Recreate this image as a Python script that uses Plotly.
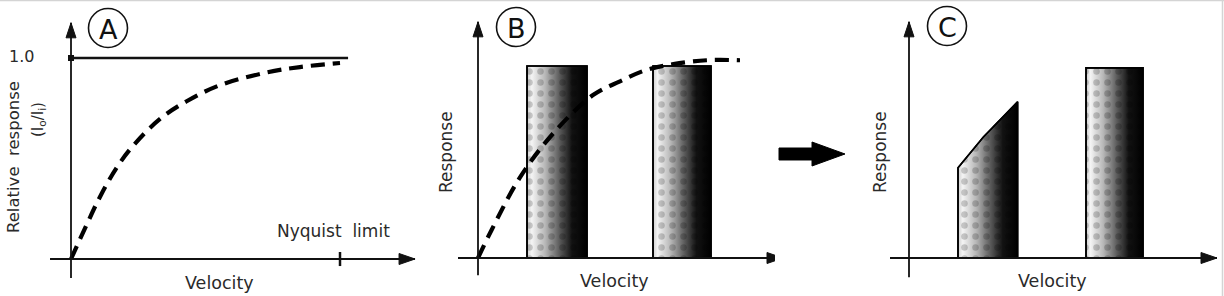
import plotly.graph_objects as go

W, H = 1224, 296

# ---------------- data ----------------
# Panel A: relative response vs velocity (velocity as fraction of Nyquist limit)
a_vel = [0.0, 0.058, 0.108, 0.17, 0.232, 0.331, 0.43, 0.554, 0.727, 0.851, 1.0]
a_resp = [0.0, 0.17, 0.31, 0.455, 0.565, 0.697, 0.785, 0.865, 0.928, 0.955, 0.975]
a_ref_level = 1.0
nyquist = 1.0

# Panel B: response curve and two velocity bands (bars)
b_vel = [0.0, 0.68, 2.1, 3.77, 5.77, 7.1, 8.43, 9.77, 11.43, 13.1]
b_resp = [0.0, 0.146, 0.42, 0.65, 0.85, 0.92, 0.98, 1.01, 1.03, 1.03]
b_bar_left = [2.45, 8.75]
b_bar_right = [5.45, 11.65]
b_bar_height = [1.0, 1.0]

# Panel C: filtered bands
c1_top_vel = [2.45, 3.72, 4.72, 5.43]
c1_top_resp = [0.47, 0.63, 0.74, 0.814]
c2_left, c2_right, c2_height = 8.85, 11.7, 0.99

# ---------------- helpers (layout positions in pixels) ----------------
def fx(px):
    return px / W

def fy(py):
    return 1 - py / H

panels = {
    "A": dict(ox=71, oy=259, sx=269, sy=201, L=0, R=425),
    "B": dict(ox=478, oy=258, sx=20, sy=192, L=425, R=775),
    "C": dict(ox=909, oy=258, sx=20, sy=192, L=860, R=1224),
}
axis_ext = {
    "A": dict(x0=-0.078, x1=1.279, y0=-0.095, y1=1.175),
    "B": dict(x0=-1.0, x1=15.25, y0=-0.09, y1=1.23),
    "C": dict(x0=-0.95, x1=15.4, y0=-0.10, y1=1.23),
}
axref = {"A": ("x", "y"), "B": ("x2", "y2"), "C": ("x3", "y3")}

fig = go.Figure()
layout_axes = {}
for i, (k, p) in enumerate(panels.items()):
    sfx = "" if i == 0 else str(i + 1)
    layout_axes["xaxis" + sfx] = dict(
        domain=[fx(p["L"]), fx(p["R"])],
        range=[(p["L"] - p["ox"]) / p["sx"], (p["R"] - p["ox"]) / p["sx"]],
        visible=False, fixedrange=True, anchor="y" + sfx,
    )
    layout_axes["yaxis" + sfx] = dict(
        domain=[0, 1],
        range=[(p["oy"] - H) / p["sy"], p["oy"] / p["sy"]],
        visible=False, fixedrange=True, anchor="x" + sfx,
    )

shapes = []
annotations = []
LINE = "#111111"
TXT = "#2a2a2a"
FONT = "DejaVu Sans"
DASH = dict(color="black", width=4.2, dash="14px,8px")

for k in panels:
    xr, yr = axref[k]
    e = axis_ext[k]
    shapes.append(dict(type="line", xref=xr, yref=yr, x0=e["x0"], x1=e["x1"] - 0.0001, y0=0, y1=0,
                       line=dict(color=LINE, width=1.8)))
    shapes.append(dict(type="line", xref=xr, yref=yr, x0=0, x1=0, y0=e["y0"], y1=e["y1"] - 0.0001,
                       line=dict(color=LINE, width=1.8)))
    shapes.append(dict(type="path", xref=xr, yref=yr, xsizemode="pixel", ysizemode="pixel",
                       xanchor=e["x1"], yanchor=0, path="M -16,-5.5 L -16,5.5 L 0,0 Z",
                       fillcolor=LINE, line=dict(color=LINE, width=1)))
    shapes.append(dict(type="path", xref=xr, yref=yr, xsizemode="pixel", ysizemode="pixel",
                       xanchor=0, yanchor=e["y1"], path="M -5,-15 L 5,-15 L 0,0 Z",
                       fillcolor=LINE, line=dict(color=LINE, width=1)))

# Panel A elements
fig.add_trace(go.Scatter(x=[0, 1.03], y=[a_ref_level, a_ref_level], mode="lines",
                         line=dict(color=LINE, width=2.4), xaxis="x", yaxis="y",
                         hoverinfo="skip", showlegend=False))
fig.add_trace(go.Scatter(x=[0], y=[a_ref_level], mode="markers",
                         marker=dict(color=LINE, size=6, symbol="square"),
                         xaxis="x", yaxis="y", hoverinfo="skip", showlegend=False))
fig.add_trace(go.Scatter(x=a_vel, y=a_resp, mode="lines", line_shape="spline",
                         line=DASH, xaxis="x", yaxis="y", hoverinfo="skip", showlegend=False))
shapes.append(dict(type="line", xref="x", yref="y", x0=nyquist, x1=nyquist, y0=-0.035, y1=0.035,
                   line=dict(color=LINE, width=2.5)))

grad = [[0, "#cfcfcf"], [0.08, "#f4f4f4"], [0.3, "#b8b8b8"], [0.55, "#585858"],
        [0.75, "#121212"], [1, "#000000"]]

def add_band(xs, ys, xa, ya):
    fig.add_trace(go.Scatter(x=xs, y=ys, mode="lines", fill="toself",
                             fillgradient=dict(type="horizontal", colorscale=grad),
                             line=dict(color="black", width=1.6),
                             xaxis=xa, yaxis=ya, hoverinfo="skip", showlegend=False))
    fig.add_trace(go.Scatter(x=xs, y=ys, mode="lines", fill="toself",
                             fillcolor="rgba(0,0,0,0)",
                             fillpattern=dict(shape=".", size=11, solidity=0.28,
                                              fgcolor="rgba(0,0,0,0.38)", bgcolor="rgba(0,0,0,0)"),
                             line=dict(color="black", width=1.6),
                             xaxis=xa, yaxis=ya, hoverinfo="skip", showlegend=False))

for l, r, h in zip(b_bar_left, b_bar_right, b_bar_height):
    add_band([l, r, r, l, l], [0, 0, h, h, 0], "x2", "y2")
fig.add_trace(go.Scatter(x=b_vel, y=b_resp, mode="lines", line_shape="spline",
                         line=DASH, xaxis="x2", yaxis="y2", hoverinfo="skip", showlegend=False))

c1x = [c1_top_vel[0]] + c1_top_vel + [c1_top_vel[-1], c1_top_vel[0]]
c1y = [0] + c1_top_resp + [0, 0]
add_band(c1x, c1y, "x3", "y3")
add_band([c2_left, c2_right, c2_right, c2_left, c2_left], [0, 0, c2_height, c2_height, 0], "x3", "y3")

for letter, (cx, cy) in {"A": (108, 28), "B": (516, 27), "C": (947, 26)}.items():
    r = 19.5
    shapes.append(dict(type="circle", xref="paper", yref="paper",
                       x0=fx(cx - r), x1=fx(cx + r), y0=fy(cy + r), y1=fy(cy - r),
                       line=dict(color=LINE, width=1.6)))
    annotations.append(dict(text=letter, x=fx(cx), y=fy(cy + 1), xref="paper", yref="paper",
                            showarrow=False, xanchor="center", yanchor="middle",
                            font=dict(family=FONT, size=27, color=LINE)))

pts = [(779, 148), (812, 148), (812, 142), (845, 154), (812, 166), (812, 160), (779, 160)]
path = "M " + " L ".join(f"{fx(x):.5f},{fy(y):.5f}" for x, y in pts) + " Z"
shapes.append(dict(type="path", xref="paper", yref="paper", path=path,
                   fillcolor="black", line=dict(color="black", width=1)))

shapes.append(dict(type="line", xref="paper", yref="paper", x0=0, x1=1, y0=fy(0.5), y1=fy(0.5),
                   line=dict(color="#d4d4d4", width=1.5)))
shapes.append(dict(type="line", xref="paper", yref="paper", x0=fx(1222.5), x1=fx(1222.5), y0=0, y1=1,
                   line=dict(color="#d4d4d4", width=1.5)))

def label(text, cx, cy, size=17.5, angle=0):
    annotations.append(dict(text=text, x=fx(cx), y=fy(cy), xref="paper", yref="paper",
                            showarrow=False, xanchor="center", yanchor="middle", textangle=angle,
                            font=dict(family=FONT, size=size, color=TXT)))

label("1.0", 21, 56, size=16)
label("Relative  response", 13, 157, size=16.5, angle=-90)
label("(I<sub>o</sub>/I<sub>i</sub>)", 38, 120, size=15, angle=-90)
label("Nyquist  limit", 333, 231, size=17)
label("Velocity", 219, 283)
label("Velocity", 614, 281)
label("Velocity", 1052, 281)
label("Response", 446, 152, size=17, angle=-90)
label("Response", 880, 152, size=17, angle=-90)

fig.update_layout(
    width=W, height=H, margin=dict(l=0, r=0, t=0, b=0),
    paper_bgcolor="white", plot_bgcolor="white",
    shapes=shapes, annotations=annotations, showlegend=False,
    **layout_axes,
)
fig.write_html("out.html", config={"displayModeBar": False})
